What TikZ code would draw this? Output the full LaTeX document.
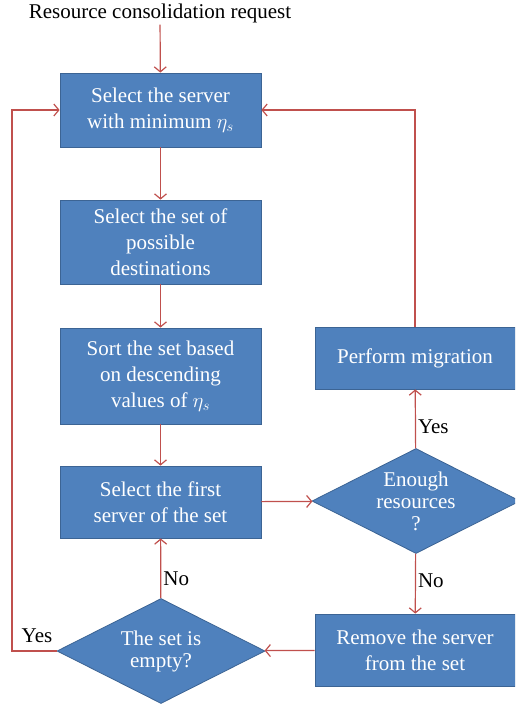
\documentclass[tikz,border=0pt]{standalone}
\usepackage{fontspec}
\setmainfont{Liberation Serif}
\usetikzlibrary{shapes.geometric,arrows.meta}
\definecolor{boxblue}{HTML}{4F81BD}
\definecolor{boxline}{HTML}{3C6494}
\definecolor{flowred}{HTML}{C0504D}
\tikzset{
  stepbox/.style={rectangle,fill=boxblue,draw=boxline,line width=0.8pt,text=white,align=center,inner sep=0pt,minimum width=201pt,font=\fontsize{21}{26}\selectfont},
  test/.style={diamond,aspect=2,fill=boxblue,draw=boxline,line width=0.8pt,text=white,align=center,inner sep=0pt,minimum width=208pt,minimum height=105pt,font=\fontsize{21}{22}\selectfont},
  flow/.style={draw=flowred,line width=1.2pt,-{Straight Barb[length=5pt,width=12pt]}},
  answer/.style={text=black,inner sep=2pt,font=\fontsize{21}{24}\selectfont}
}
\begin{document}
\begin{tikzpicture}[x=1pt,y=-1pt]
\clip (0,0) rectangle (515,705);
% steps on the left
\node[answer] (title) at (160,13) {Resource consolidation request};
\node[stepbox,minimum height=74pt] (pick) at (160.5,110) {Select the server\\with minimum $\eta_s$};
\node[stepbox,minimum height=84pt] (dest) at (160.5,242) {Select the set of\\possible\\destinations};
\node[stepbox,minimum height=96pt] (sort) at (160.5,376) {Sort the set based\\on descending\\values of $\eta_s$};
\node[stepbox,minimum height=72pt] (first) at (160.5,502) {Select the first\\server of the set};
\node[test] (empty) at (161,651) {The set is\\empty?};
% steps on the right
\node[stepbox,minimum width=200pt,minimum height=62pt] (migrate) at (415,358) {Perform migration};
\node[test] (enough) at (416,501) {Enough\\resources\\?};
\node[stepbox,minimum width=200pt,minimum height=72pt] (remove) at (415,650) {Remove the server\\from the set};
\coordinate (back) at (12,651);
% connectors
\draw[flow] (title) -- (pick);
\draw[flow] (pick) -- (dest);
\draw[flow] (dest) -- (sort);
\draw[flow] (sort) -- (first);
\draw[flow] (first) -- (enough);
\draw[flow] (enough) -- node[answer,right,pos=.37]{Yes} (migrate);
\draw[flow] (migrate.north) |- (pick.east);
\draw[flow] (enough) -- node[answer,right,pos=.45]{No} (remove);
\draw[flow] (remove) -- (empty);
\draw[flow] (empty) -- node[answer,right,pos=.33]{No} (first);
\draw[flow] (empty.west) -- node[answer,above,pos=.44,yshift=6pt]{Yes} (back) |- (pick.west);
\end{tikzpicture}
\end{document}
